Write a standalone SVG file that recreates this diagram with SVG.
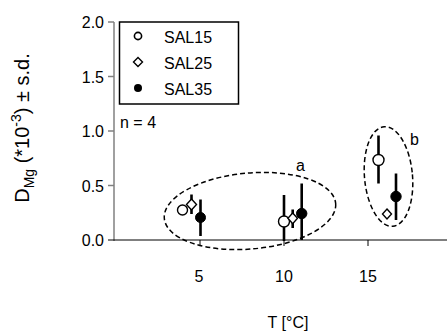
<svg xmlns="http://www.w3.org/2000/svg" width="447" height="333" viewBox="0 0 447 333">
<style>
text{font-family:"Liberation Sans",Arial,sans-serif;font-size:16px;fill:#000}
.ax{stroke:#808080;stroke-width:1.5;fill:none}
.xax{stroke:#000;stroke-width:1;fill:none}
.eb{stroke:#000;stroke-width:2.6;fill:none}
.oc{fill:#fff;stroke:#000;stroke-width:1.4}
.fc{fill:#000;stroke:#000;stroke-width:1}
.ell{fill:none;stroke:#000;stroke-width:1.5;stroke-dasharray:5,3}
</style>
<rect width="447" height="333" fill="#fff"/>
<g id="axes">
<line class="ax" x1="114" y1="22" x2="114" y2="241"/>
<line class="ax" x1="108" y1="22" x2="114" y2="22"/>
<line class="ax" x1="108" y1="76.5" x2="114" y2="76.5"/>
<line class="ax" x1="108" y1="131" x2="114" y2="131"/>
<line class="ax" x1="108" y1="185.5" x2="114" y2="185.5"/>
<line class="xax" x1="108" y1="240" x2="447" y2="240"/>
<line class="xax" x1="200" y1="240" x2="200" y2="246"/>
<line class="xax" x1="284" y1="240" x2="284" y2="246"/>
<line class="xax" x1="368" y1="240" x2="368" y2="246"/>
<g text-anchor="end">
<text x="104" y="28">2.0</text>
<text x="104" y="82.5">1.5</text>
<text x="104" y="137">1.0</text>
<text x="104" y="191.5">0.5</text>
<text x="104" y="246">0.0</text>
</g>
<g text-anchor="middle">
<text x="199" y="282">5</text>
<text x="284" y="282">10</text>
<text x="368" y="282">15</text>
<text x="288" y="328">T [°C]</text>
</g>
<text transform="translate(28.5,128) rotate(-90)" text-anchor="middle" style="font-size:20px">D<tspan style="font-size:14px" dy="5">Mg</tspan><tspan dy="-5"> (*10</tspan><tspan style="font-size:14px" dy="-8">-3</tspan><tspan dy="8">) ± s.d.</tspan></text>
</g>
<g id="legend">
<rect x="119.5" y="22" width="119" height="82" fill="#fff" stroke="#000" stroke-width="1.5"/>
<circle cx="138" cy="36" r="3.6" fill="#fff" stroke="#000" stroke-width="1.6"/>
<path d="M138 57.5 L142.5 62 L138 66.5 L133.5 62 Z" fill="#fff" stroke="#000" stroke-width="1.4"/>
<circle cx="138" cy="88" r="4" fill="#000"/>
<text x="164" y="43">SAL15</text>
<text x="164" y="69">SAL25</text>
<text x="164" y="95">SAL35</text>
</g>
<text id="n-label" x="120" y="128">n = 4</text>
<g id="connectors">
<ellipse class="ell" cx="250" cy="211" rx="86" ry="38" transform="rotate(-5 250 211)"/>
<ellipse class="ell" cx="388.5" cy="176.5" rx="24" ry="50" transform="rotate(-5 388.5 176.5)"/>
</g>
<g id="group-a-5">
<line class="eb" x1="191.5" y1="194.5" x2="191.5" y2="214"/>
<circle class="oc" cx="182.5" cy="210" r="5"/>
<path class="oc" d="M191.5 199 L196.5 204.5 L191.5 210 L186.5 204.5 Z"/>
<line class="eb" x1="200.5" y1="199.5" x2="200.5" y2="236"/>
<circle class="fc" cx="200.5" cy="217.5" r="5"/>
</g>
<g id="group-a-10">
<line class="eb" x1="284" y1="195" x2="284" y2="241"/>
<circle class="oc" cx="284" cy="221.5" r="5.5"/>
<line class="eb" x1="292.7" y1="209.5" x2="292.7" y2="228"/>
<path class="oc" d="M292.7 213 L297.5 218.3 L292.7 223.6 L287.9 218.3 Z"/>
<line class="eb" x1="301.7" y1="183.5" x2="301.7" y2="240"/>
<circle class="fc" cx="301.7" cy="213.5" r="5.2"/>
</g>
<g id="group-b">
<line class="eb" x1="378.5" y1="135.5" x2="378.5" y2="183.5"/>
<circle class="oc" cx="378.5" cy="160" r="5.5"/>
<path class="oc" d="M387 209 L391.5 214 L387 219 L382.5 214 Z"/>
<line class="eb" x1="396" y1="173.5" x2="396" y2="220"/>
<circle class="fc" cx="396" cy="196.5" r="5.2"/>
</g>
<text id="label-a" x="296" y="171">a</text>
<text id="label-b" x="410" y="145">b</text>
</svg>
